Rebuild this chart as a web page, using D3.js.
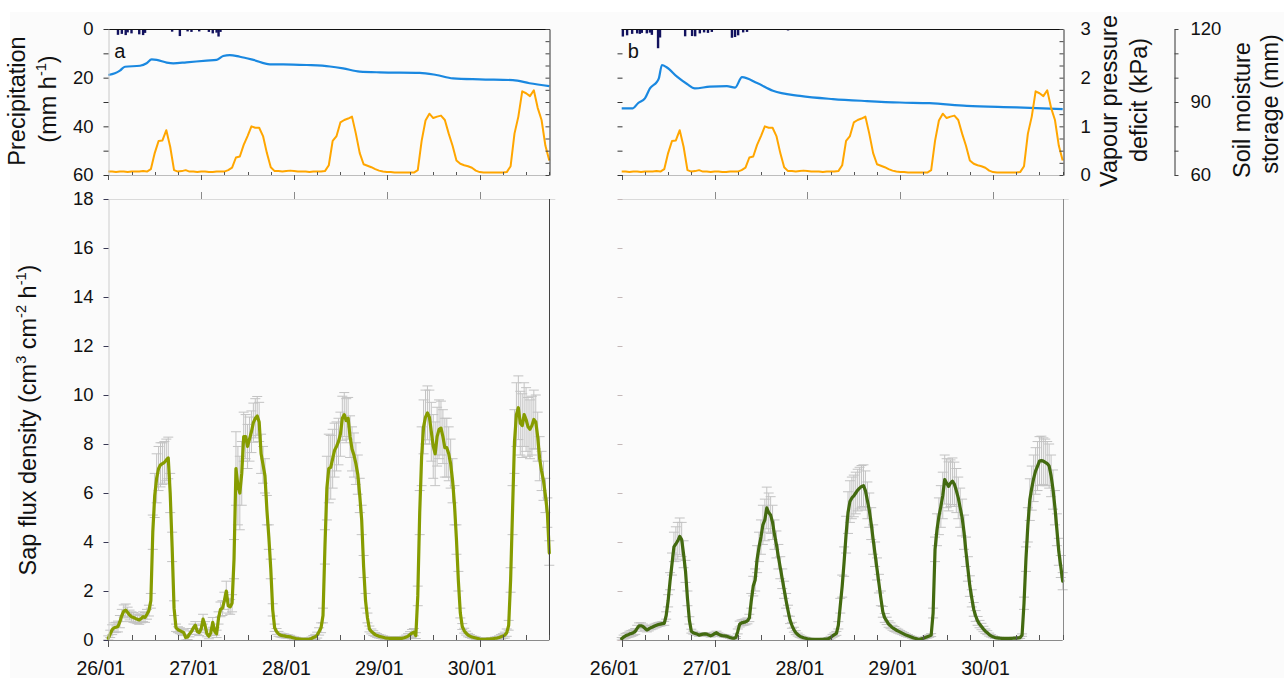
<!DOCTYPE html>
<html>
<head>
<meta charset="utf-8">
<script src="https://cdn.jsdelivr.net/npm/d3@7"></script>
<style>
  body { margin: 0; background: #ffffff; }
  svg { display: block; }
</style>
</head>
<body>
<svg id="chart" width="1284" height="678"></svg>
<script>
// ---------- data ----------
const dayLabels = ["26/01", "27/01", "28/01", "29/01", "30/01"];
const spanHours = 114;          // 26/01 00:00 to 30/01 18:00
const sapStepHours = 0.5;       // sap flux sampled every 30 min

// precipitation (mm h-1), hour of record
const precipHoursA = [2.5, 3.5, 4.5, 5, 6, 8, 9, 9.5, 16.5, 18.5, 20.5, 21.5, 23.5, 26, 27, 28, 28.5, 29, 46];
const precipA      = [2.4, 2.0, 2.5, 1.4, 1.8, 2.2, 2.5, 1.6, 1.1, 2.9, 1.0, 1.2, 1.0, 1.2, 1.8, 1.5, 3.1, 1.2, 0.4];
const precipHoursB = [0.3, 1.4, 2.7, 4, 4.7, 5.2, 6.5, 7.3, 7.8, 9.4, 9.9, 16.4, 18.2, 19, 20.2, 21.3, 22.3, 23.3, 28.5, 29.3, 30.1, 31.4, 32.4, 43, 46.6, 54.6, 78.9];
const precipB      = [3.1, 2.6, 2.0, 1.8, 2.0, 1.6, 1.8, 1.5, 2.4, 7.9, 3.5, 3.0, 2.9, 3.0, 1.8, 1.4, 1.6, 1.2, 3.6, 3.3, 2.6, 1.4, 1.2, 0.6, 0.4, 0.3, 0.4];

// vapour pressure deficit (kPa), hourly
const vpd = [
  0.07, 0.07, 0.06, 0.07, 0.07, 0.06, 0.07, 0.07, 0.07, 0.08, 0.07, 0.12, 0.45, 0.7, 0.71, 0.92, 0.58, 0.1, 0.07, 0.08,
  0.1, 0.07, 0.07, 0.06, 0.07, 0.07, 0.06, 0.06, 0.07, 0.07, 0.07, 0.1, 0.15, 0.36, 0.38, 0.62, 0.8, 1.0, 0.97, 0.97,
  0.8, 0.45, 0.16, 0.08, 0.08, 0.07, 0.08, 0.09, 0.08, 0.07, 0.07, 0.07, 0.06, 0.07, 0.07, 0.07, 0.08, 0.2, 0.7, 0.8,
  1.08, 1.13, 1.16, 1.2, 0.85, 0.45, 0.22, 0.19, 0.16, 0.12, 0.09, 0.07, 0.06, 0.06, 0.05, 0.05, 0.05, 0.05, 0.05, 0.05,
  0.1, 0.7, 1.12, 1.26, 1.17, 1.2, 1.22, 1.13, 0.85, 0.6, 0.3, 0.23, 0.2, 0.18, 0.15, 0.09, 0.06, 0.05, 0.05, 0.05,
  0.05, 0.05, 0.05, 0.06, 0.18, 0.85, 1.2, 1.72, 1.68, 1.62, 1.74, 1.38, 1.13, 0.6, 0.3
];

// soil moisture storage (mm)
const soilHoursA = [0, 1.7, 3, 4.3, 8.2, 9.9, 11.2, 12.5, 15.1, 16.8, 20.2, 25.4, 28, 29.7, 31.4, 34, 37.5, 41.8, 45.2, 51.3, 57.3, 60.7, 65, 70.2, 80.5, 84.8, 89.1, 96, 104.6, 108.9, 114];
const soilA      = [101.1, 101.8, 102.9, 104.5, 104.9, 105.9, 107.5, 107.3, 106.2, 105.9, 106.3, 107.0, 107.3, 108.9, 109.3, 108.6, 107.3, 105.5, 105.5, 105.2, 104.6, 103.8, 102.5, 102.2, 102.0, 101.1, 99.7, 99.3, 99.0, 97.7, 96.5];
const soilHoursB = [0, 2.9, 4.2, 6.0, 7.3, 9.1, 9.6, 10.4, 11.7, 14.3, 16.9, 18.9, 22.8, 27.2, 29.3, 31.1, 35.0, 39.1, 46.1, 54.6, 63.4, 71.9, 79.6, 89.2, 102.1, 114];
const soilB      = [87.4, 87.4, 89.5, 91.5, 95.6, 98.3, 99.7, 105.2, 104.2, 100.4, 97.4, 95.6, 96.3, 96.5, 95.9, 100.2, 97.8, 94.6, 92.5, 91.2, 90.4, 89.8, 89.5, 88.4, 87.8, 87.1];

// sap flux density (cm3 cm-2 h-1), 30-min means and their errors
const sapA = [
  0.07, 0.25, 0.42, 0.5, 0.52, 0.55, 0.75, 1.0, 1.18, 1.22, 1.12, 1.02,
  0.95, 0.92, 0.88, 0.85, 0.82, 0.88, 0.95, 0.92, 1.05, 1.2, 1.6, 4.4,
  5.9, 6.6, 7.0, 7.15, 7.2, 7.25, 7.35, 7.43, 6.0, 3.8, 1.3, 0.5,
  0.42, 0.38, 0.34, 0.3, 0.1, 0.12, 0.25, 0.35, 0.5, 0.6, 0.35, 0.3,
  0.45, 0.85, 0.6, 0.25, 0.15, 0.3, 0.72, 0.35, 0.25, 0.9, 1.25, 1.3,
  1.6, 2.0, 1.4, 1.35, 1.5, 3.3, 7.0, 6.3, 6.0, 6.8, 8.3, 8.3,
  7.9, 8.2, 8.5, 8.87, 9.05, 9.14, 8.9, 7.6, 7.15, 6.7, 5.3, 4.2,
  2.9, 1.23, 0.5, 0.35, 0.25, 0.2, 0.18, 0.17, 0.15, 0.14, 0.13, 0.1,
  0.08, 0.06, 0.05, 0.04, 0.03, 0.03, 0.03, 0.03, 0.04, 0.06, 0.1, 0.13,
  0.2, 0.35, 0.5, 1.0, 3.8, 6.2, 7.0, 7.05, 7.4, 7.75, 7.9, 8.1,
  8.4, 9.05, 9.2, 8.95, 9.05, 8.3, 7.8, 7.55, 7.2, 6.75, 5.9, 4.9,
  3.0, 1.6, 0.9, 0.45, 0.35, 0.28, 0.22, 0.18, 0.15, 0.13, 0.11, 0.09,
  0.08, 0.07, 0.07, 0.07, 0.07, 0.07, 0.07, 0.07, 0.07, 0.09, 0.12, 0.16,
  0.22, 0.28, 0.32, 0.18, 1.8, 5.2, 7.5, 8.7, 9.1, 9.27, 9.1, 8.5,
  7.9, 7.6, 8.3, 8.6, 8.65, 8.3, 7.85, 7.85, 7.6, 7.2, 6.5, 5.5,
  4.1, 2.4, 1.1, 0.55, 0.38, 0.28, 0.2, 0.16, 0.12, 0.1, 0.08, 0.06,
  0.04, 0.03, 0.03, 0.03, 0.04, 0.04, 0.05, 0.05, 0.07, 0.08, 0.1, 0.13,
  0.16, 0.2, 0.3, 0.6, 2.45, 5.3, 8.1, 9.2, 9.48, 8.85, 8.75, 9.2,
  9.0, 8.7, 8.6, 8.75, 9.0, 8.9, 8.3, 7.4, 6.9, 6.5, 5.9, 5.2,
  3.55
];
const sapErrA = [
  0.1, 0.15, 0.2, 0.2, 0.2, 0.22, 0.25, 0.25, 0.25, 0.25, 0.22, 0.2,
  0.2, 0.2, 0.18, 0.18, 0.18, 0.18, 0.2, 0.2, 0.2, 0.22, 0.3, 0.7,
  0.9, 1.0, 0.9, 0.9, 0.85, 0.85, 0.85, 0.85, 0.8, 0.6, 0.3, 0.15,
  0.12, 0.12, 0.12, 0.12, 0.1, 0.1, 0.12, 0.12, 0.15, 0.15, 0.12, 0.12,
  0.15, 0.2, 0.15, 0.12, 0.1, 0.12, 0.2, 0.15, 0.15, 0.25, 0.3, 0.3,
  0.35, 0.4, 0.3, 0.3, 0.35, 0.8, 1.5, 1.6, 1.5, 1.3, 1.0, 0.9,
  0.9, 0.9, 0.85, 0.8, 0.8, 0.8, 0.8, 0.8, 0.75, 0.7, 0.6, 0.5,
  0.4, 0.25, 0.15, 0.12, 0.1, 0.08, 0.08, 0.08, 0.07, 0.07, 0.06, 0.05,
  0.05, 0.05, 0.04, 0.04, 0.04, 0.04, 0.04, 0.04, 0.05, 0.06, 0.08, 0.1,
  0.12, 0.15, 0.2, 0.3, 0.7, 1.3, 1.4, 1.3, 1.2, 1.1, 1.0, 0.95,
  0.9, 0.9, 0.9, 0.9, 0.85, 0.85, 0.9, 0.9, 0.85, 0.8, 0.7, 0.6,
  0.45, 0.3, 0.2, 0.12, 0.1, 0.1, 0.08, 0.08, 0.07, 0.07, 0.06, 0.06,
  0.05, 0.05, 0.05, 0.05, 0.05, 0.05, 0.05, 0.05, 0.05, 0.06, 0.08, 0.1,
  0.12, 0.15, 0.15, 0.12, 0.4, 0.9, 1.2, 1.1, 1.1, 1.1, 1.1, 1.2,
  1.3, 1.3, 1.2, 1.2, 1.1, 1.1, 1.2, 1.2, 1.1, 1.0, 0.9, 0.8,
  0.6, 0.4, 0.2, 0.12, 0.1, 0.08, 0.07, 0.06, 0.05, 0.05, 0.05, 0.04,
  0.04, 0.04, 0.04, 0.04, 0.04, 0.04, 0.04, 0.04, 0.05, 0.06, 0.07, 0.09,
  0.1, 0.12, 0.15, 0.2, 0.5, 1.0, 1.3, 1.3, 1.3, 1.3, 1.3, 1.3,
  1.3, 1.2, 1.2, 1.2, 1.2, 1.1, 1.0, 0.9, 0.8, 0.8, 0.7, 0.6,
  0.5
];
const sapB = [
  0.05, 0.12, 0.17, 0.2, 0.24, 0.27, 0.3, 0.35, 0.48, 0.58, 0.58, 0.55,
  0.48, 0.41, 0.45, 0.5, 0.53, 0.57, 0.6, 0.63, 0.65, 0.67, 0.68, 1.0,
  1.6, 2.4, 3.1, 3.8, 3.92, 4.05, 4.23, 4.1, 3.5, 2.8, 1.7, 0.8,
  0.36, 0.3, 0.27, 0.24, 0.2, 0.22, 0.24, 0.25, 0.24, 0.2, 0.17, 0.2,
  0.26, 0.3, 0.24, 0.2, 0.18, 0.17, 0.16, 0.13, 0.1, 0.08, 0.07, 0.1,
  0.35, 0.65, 0.7, 0.72, 0.74, 0.78, 0.9, 1.6, 2.2, 2.45, 3.3, 3.8,
  4.2, 4.7, 4.9, 5.39, 5.2, 5.1, 4.8, 4.3, 3.9, 3.4, 2.95, 2.5,
  2.05, 1.6, 1.2, 0.82, 0.6, 0.42, 0.3, 0.22, 0.16, 0.12, 0.09, 0.07,
  0.05, 0.04, 0.03, 0.03, 0.03, 0.03, 0.03, 0.03, 0.03, 0.04, 0.04, 0.06,
  0.1, 0.17, 0.22, 0.27, 0.6, 1.4, 2.2, 3.2, 4.3, 5.2, 5.65, 5.8,
  5.88, 6.0, 6.12, 6.2, 6.27, 6.3, 6.1, 5.7, 5.3, 4.75, 4.1, 3.5,
  2.9, 2.3, 1.7, 1.15, 0.9, 0.78, 0.65, 0.58, 0.5, 0.45, 0.4, 0.36,
  0.32, 0.28, 0.24, 0.2, 0.17, 0.14, 0.11, 0.08, 0.06, 0.04, 0.03, 0.05,
  0.07, 0.1, 0.13, 0.16, 0.2, 1.1, 3.7, 4.5, 5.05, 5.45, 5.9, 6.55,
  6.4, 6.27, 6.4, 6.48, 6.36, 6.1, 5.8, 5.4, 5.0, 4.4, 3.6, 2.9,
  2.2, 1.7, 1.25, 0.98, 0.78, 0.65, 0.55, 0.45, 0.36, 0.3, 0.22, 0.17,
  0.13, 0.1, 0.09, 0.08, 0.07, 0.07, 0.07, 0.07, 0.07, 0.07, 0.07, 0.08,
  0.08, 0.09, 0.1, 0.2, 1.5, 3.3, 4.7, 5.73, 6.2, 6.6, 6.9, 7.1,
  7.3, 7.32, 7.3, 7.25, 7.2, 7.1, 6.7, 6.14, 5.4, 4.5, 3.6, 3.0,
  2.4
];
const sapErrB = [
  0.05, 0.08, 0.1, 0.1, 0.12, 0.12, 0.12, 0.12, 0.12, 0.12, 0.12, 0.1,
  0.1, 0.08, 0.08, 0.08, 0.08, 0.08, 0.08, 0.08, 0.08, 0.08, 0.08, 0.15,
  0.25, 0.35, 0.45, 0.6, 0.7, 0.75, 0.75, 0.7, 0.55, 0.45, 0.3, 0.15,
  0.08, 0.06, 0.05, 0.05, 0.05, 0.05, 0.05, 0.05, 0.05, 0.05, 0.05, 0.05,
  0.06, 0.06, 0.05, 0.05, 0.05, 0.05, 0.04, 0.04, 0.04, 0.04, 0.04, 0.04,
  0.1, 0.12, 0.12, 0.12, 0.12, 0.12, 0.15, 0.3, 0.4, 0.45, 0.55, 0.6,
  0.7, 0.8, 0.85, 0.85, 0.8, 0.75, 0.7, 0.6, 0.55, 0.5, 0.45, 0.4,
  0.35, 0.3, 0.22, 0.15, 0.12, 0.1, 0.08, 0.06, 0.05, 0.04, 0.04, 0.04,
  0.03, 0.03, 0.03, 0.03, 0.03, 0.03, 0.03, 0.03, 0.03, 0.03, 0.03, 0.04,
  0.05, 0.06, 0.07, 0.08, 0.15, 0.3, 0.45, 0.6, 0.75, 0.85, 0.85, 0.85,
  0.85, 0.85, 0.85, 0.85, 0.85, 0.85, 0.8, 0.75, 0.7, 0.65, 0.6, 0.5,
  0.45, 0.38, 0.3, 0.22, 0.18, 0.15, 0.13, 0.12, 0.1, 0.1, 0.08, 0.08,
  0.07, 0.06, 0.06, 0.05, 0.05, 0.04, 0.04, 0.04, 0.03, 0.03, 0.03, 0.03,
  0.04, 0.04, 0.05, 0.05, 0.06, 0.2, 0.5, 0.65, 0.75, 0.85, 0.95, 1.0,
  1.0, 1.0, 0.95, 0.95, 0.9, 0.9, 0.85, 0.8, 0.75, 0.7, 0.6, 0.5,
  0.42, 0.35, 0.28, 0.22, 0.18, 0.15, 0.13, 0.11, 0.09, 0.08, 0.06, 0.05,
  0.04, 0.04, 0.03, 0.03, 0.03, 0.03, 0.03, 0.03, 0.03, 0.03, 0.03, 0.03,
  0.03, 0.04, 0.04, 0.05, 0.25, 0.5, 0.7, 0.85, 0.9, 0.95, 0.95, 1.0,
  1.0, 1.0, 0.95, 0.95, 0.9, 0.9, 0.85, 0.8, 0.7, 0.65, 0.55, 0.45,
  0.35
];

// ---------- layout ----------
const FONT = "'Liberation Sans', Arial, sans-serif";
const svg = d3.select("#chart").style("font-family", FONT);

svg.append("rect").attr("x", 10).attr("y", 12).attr("width", 1274).attr("height", 666).attr("fill", "#fbfbfb");

const yPrec = d3.scaleLinear().domain([0, 60]).range([29, 175]);
const yVpd  = d3.scaleLinear().domain([0, 3]).range([175, 29]);
const ySoil = d3.scaleLinear().domain([60, 120]).range([175, 29]);
const ySap  = d3.scaleLinear().domain([0, 18]).range([640, 199]);

const crisp = v => Math.round(v) + 0.5;

const panels = [
  { tag: "a", left: 108.3, right: 549.3, sap: sapA, err: sapErrA, sapColor: "#869c00",
    precipHours: precipHoursA, precip: precipA, soilHours: soilHoursA, soil: soilA },
  { tag: "b", left: 621.7, right: 1062.7, sap: sapB, err: sapErrB, sapColor: "#436a10",
    precipHours: precipHoursB, precip: precipB, soilHours: soilHoursB, soil: soilB }
];

function styleAxis(g, domainColor, tickColor, size) {
  g.attr("font-family", FONT).attr("font-size", size || 18.5);
  g.select(".domain").attr("stroke", domainColor);
  g.selectAll(".tick line").attr("stroke", tickColor);
  g.selectAll(".tick text").attr("fill", "#111");
}

function timeAxis(x, y, up, down, lineColor, tickColor) {
  const g = svg.append("g");
  g.append("line")
    .attr("x1", x.range()[0]).attr("x2", x.range()[1])
    .attr("y1", crisp(y)).attr("y2", crisp(y))
    .attr("stroke", lineColor);
  g.selectAll("line.tk").data(d3.range(0, spanHours + 1, 6)).join("line")
    .attr("class", "tk")
    .attr("x1", d => crisp(x(d))).attr("x2", d => crisp(x(d)))
    .attr("y1", d => d % 24 === 0 ? y : y - up)
    .attr("y2", d => d % 24 === 0 ? y + down : y)
    .attr("stroke", tickColor);
  return g;
}

panels.forEach((p, k) => {
  const x = d3.scaleLinear().domain([0, spanHours]).range([p.left, p.right]);

  // ----- upper panel: precipitation, soil moisture, VPD -----
  svg.append("g").selectAll("rect").data(d3.zip(p.precipHours, p.precip)).join("rect")
    .attr("x", d => x(d[0]) - 1.2).attr("width", 2.4)
    .attr("y", yPrec(0)).attr("height", d => yPrec(d[1]) - yPrec(0))
    .attr("fill", "#12125e");

  svg.append("path").datum(d3.zip(p.soilHours, p.soil))
    .attr("fill", "none").attr("stroke", "#1a88e0").attr("stroke-width", 2.2)
    .attr("stroke-linejoin", "round")
    .attr("d", d3.line().x(d => x(d[0])).y(d => ySoil(d[1])).curve(d3.curveMonotoneX));

  svg.append("path").datum(vpd)
    .attr("fill", "none").attr("stroke", "#ffa600").attr("stroke-width", 2)
    .attr("stroke-linejoin", "round")
    .attr("d", d3.line().x((d, i) => x(i)).y(d => yVpd(d)));

  // frame of the upper panel
  svg.append("line").attr("x1", p.left).attr("x2", p.right + 0.5)
    .attr("y1", crisp(yPrec(0))).attr("y2", crisp(yPrec(0))).attr("stroke", "#111");
  timeAxis(x, yPrec(60), 3, 5, "#bdbdbd", "#555");

  const precipAxis = d3.axisLeft(yPrec).tickValues(d3.range(0, 61, 10))
    .tickSizeInner(5).tickSizeOuter(0).tickPadding(10)
    .tickFormat(d => k === 0 && d % 20 === 0 ? d : "");
  const gp = svg.append("g").attr("transform", `translate(${crisp(p.left)},0)`).call(precipAxis);
  styleAxis(gp, "#c8c8c8", "#333");
  if (k === 1) { gp.select(".domain").remove(); gp.selectAll(".tick").filter(d => d === 0).remove(); }

  const vpdAxis = d3.axisRight(yVpd).tickValues(d3.range(0, 3.001, 0.25))
    .tickSizeInner(-4).tickSizeOuter(0).tickPadding(17)
    .tickFormat(d => k === 1 && Number.isInteger(d) ? d : "");
  const gv = svg.append("g").attr("transform", `translate(${crisp(p.right)},0)`).call(vpdAxis);
  styleAxis(gv, "#333", "#444");

  svg.append("text").attr("x", p.left + 6).attr("y", 58)
    .attr("font-size", 20).attr("fill", "#111").text(p.tag);

  // ----- lower panel: sap flux density -----
  const errPath = d3.path();
  p.sap.forEach((v, i) => {
    const cx = x(i * sapStepHours);
    const hi = ySap(v + p.err[i]);
    const lo = ySap(Math.max(0, v - p.err[i]));
    errPath.moveTo(cx, hi); errPath.lineTo(cx, lo);
    errPath.moveTo(cx - 5, hi); errPath.lineTo(cx + 5, hi);
    errPath.moveTo(cx - 5, lo); errPath.lineTo(cx + 5, lo);
  });
  svg.append("path").attr("d", errPath.toString())
    .attr("fill", "none").attr("stroke", "#c3c3c3").attr("stroke-width", 1);

  svg.append("path").datum(p.sap)
    .attr("fill", "none").attr("stroke", p.sapColor).attr("stroke-width", 3.2)
    .attr("stroke-linejoin", "round").attr("stroke-linecap", "round")
    .attr("d", d3.line().x((d, i) => x(i * sapStepHours)).y(d => ySap(d)));

  // top edge of the lower panel with day ticks
  svg.append("line").attr("x1", p.left).attr("x2", p.right + 6)
    .attr("y1", crisp(ySap(18))).attr("y2", crisp(ySap(18))).attr("stroke", "#dadada");
  svg.append("g").selectAll("line").data(d3.range(24, spanHours + 1, 24)).join("line")
    .attr("x1", d => crisp(x(d))).attr("x2", d => crisp(x(d)))
    .attr("y1", ySap(18) - 7).attr("y2", ySap(18)).attr("stroke", "#8a8a8a");

  // right edge
  svg.append("line").attr("x1", crisp(p.right)).attr("x2", crisp(p.right))
    .attr("y1", ySap(18)).attr("y2", ySap(0)).attr("stroke", k === 0 ? "#444" : "#8a8a8a");

  const sapAxis = d3.axisLeft(ySap).tickValues(d3.range(0, 19, 2))
    .tickSizeInner(5).tickSizeOuter(0).tickPadding(10)
    .tickFormat(d => k === 0 ? d : "");
  const gs = svg.append("g").attr("transform", `translate(${crisp(p.left)},0)`).call(sapAxis);
  styleAxis(gs, "#cdcdcd", k === 0 ? "#3a3a55" : "#c4b8b8");
  if (k === 1) gs.select(".domain").remove();

  timeAxis(x, ySap(0), 5, 7, "#8a8a8a", "#555");

  svg.append("g").selectAll("text").data(dayLabels).join("text")
    .attr("x", (d, i) => x(i * 24) - 7.5).attr("y", 675)
    .attr("text-anchor", "middle").attr("font-size", 19.5).attr("fill", "#111")
    .text(d => d);
});

// soil moisture axis
const soilAxis = d3.axisRight(ySoil).tickValues(d3.range(60, 121, 10))
  .tickSizeInner(4).tickSizeOuter(0).tickPadding(12)
  .tickFormat(d => d % 30 === 0 ? d : "");
const gsm = svg.append("g").attr("transform", "translate(1174.5,0)").call(soilAxis);
styleAxis(gsm, "#333", "#444");

// ---------- axis titles ----------
function vTitle(cx, cy, parts, size) {
  const t = svg.append("text")
    .attr("transform", `translate(${cx},${cy}) rotate(-90)`)
    .attr("text-anchor", "middle").attr("font-size", size).attr("fill", "#111");
  let raised = false;
  parts.forEach(([txt, sup]) => {
    const ts = t.append("tspan").text(txt);
    if (sup && !raised) { ts.attr("dy", -0.42 * size).attr("font-size", size * 0.62); raised = true; }
    else if (sup) { ts.attr("font-size", size * 0.62); }
    else if (!sup && raised) { ts.attr("dy", 0.42 * size); raised = false; }
  });
}
const TS = 23.5;
vTitle(25, 101, [["Precipitation", false]], TS);
vTitle(56, 99, [["(mm h", false], ["-1", true], [")", false]], TS);
vTitle(36, 420, [["Sap flux density (cm", false], ["3", true], [" cm", false], ["-2", true], [" h", false], ["-1", true], [")", false]], TS);
vTitle(1117, 101, [["Vapour pressure", false]], TS);
vTitle(1147, 100, [["deficit (kPa)", false]], TS);
vTitle(1250, 110, [["Soil moisture", false]], TS);
vTitle(1278, 104, [["storage (mm)", false]], TS);
</script>
</body>
</html>
